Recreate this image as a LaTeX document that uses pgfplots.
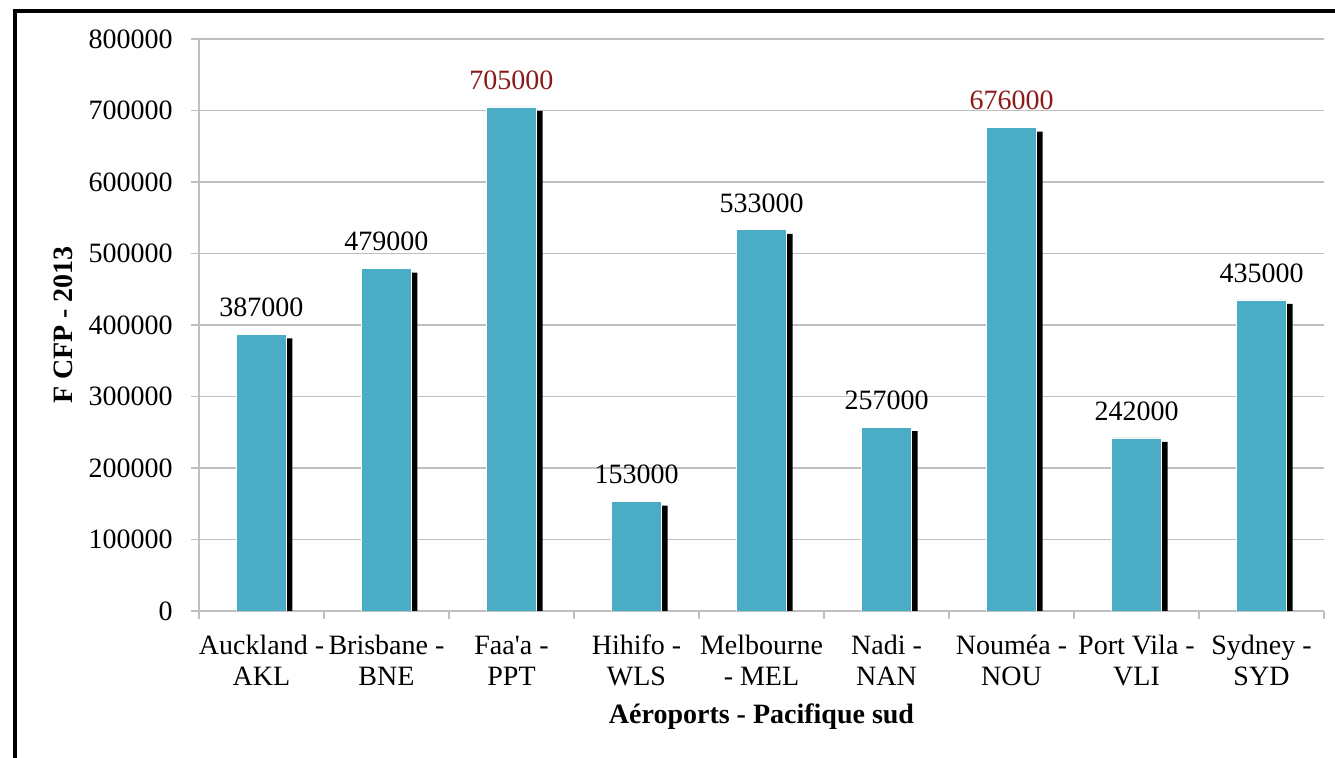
\documentclass[border=0pt]{standalone}
\usepackage{pgfplots}
\pgfplotsset{compat=1.18}
\usepackage{fontspec}
\setmainfont{Liberation Serif}
\definecolor{teal1}{HTML}{4BACC6}
\definecolor{darkred1}{HTML}{8B1A1A}
\definecolor{gridgray}{HTML}{BFBFBF}
\begin{document}
\begin{tikzpicture}
\useasboundingbox (0,0) rectangle (667.5pt,379pt);
\draw[line width=2pt] (7.25pt,0) -- (7.25pt,374.5pt);
\draw[line width=2pt] (6.25pt,373.5pt) -- (667.5pt,373.5pt);
\begin{axis}[
  at={(99.5pt,73.5pt)}, anchor=south west,
  scale only axis, width=562.5pt, height=286pt,
  xmin=-0.5, xmax=8.5, ymin=0, ymax=800000,
  ytick={0,100000,...,800000},
  scaled y ticks=false,
  axis x line*=bottom, axis y line*=left,
  axis line style={-, draw=gridgray, line width=0.75pt},
  ymajorgrids, grid style={draw=gridgray, line width=0.75pt},
  tick align=outside, major tick length=4pt,
  tick style={draw=gridgray, line width=0.75pt},
  xtick={-0.5,0.5,...,8.5}, xticklabels={},
  extra x ticks={0,1,2,3,4,5,6,7,8},
  extra x tick labels={\strut Auckland -\\AKL, \strut Brisbane -\\BNE, \strut Faa\textquotesingle a -\\PPT, \strut Hihifo -\\WLS, \strut Melbourne\\- MEL, \strut Nadi -\\NAN, \strut Nouméa -\\NOU, \strut Port Vila -\\VLI, \strut Sydney -\\SYD},
  extra x tick style={major tick length=0pt, grid=none},
  tick label style={font=\fontsize{14}{15.5}\selectfont},
  xticklabel style={align=center, anchor=north, inner sep=0pt, yshift=-10.8pt},
  yticklabel style={anchor=east, inner sep=0pt, xshift=-9pt},
  xlabel={\textbf{Aéroports - Pacifique sud}},
  xlabel style={at={(axis description cs:0.5,-0.1853)}, anchor=center, font=\fontsize{14}{16}\selectfont},
  ylabel={\textbf{F CFP - 2013}},
  ylabel style={at={(axis description cs:-0.1209,0.5)}, anchor=center, font=\fontsize{14}{16}\selectfont},
  /pgf/number format/.cd, fixed, 1000 sep={}, assume math mode=true,
]
% shadow
\addplot[ybar, bar width=25pt, bar shift=3pt, fill=black, draw=none] coordinates {
  (0,381400) (1,473400) (2,699400) (3,147400) (4,527400) (5,251400) (6,670400) (7,236400) (8,429400)};
% bars
\addplot[ybar, bar width=25pt, bar shift=0pt, fill=teal1, draw=white, line width=0.4pt] coordinates {
  (0,387000) (1,479000) (2,705000) (3,153000) (4,533000) (5,257000) (6,676000) (7,242000) (8,435000)};
% labels
\addplot[only marks, mark=none, nodes near coords, point meta=y,
  every node near coord/.append style={anchor=south, inner sep=0pt, yshift=8.5pt, text=black, font=\fontsize{14}{16}\selectfont}]
  coordinates {(0,387000) (1,479000) (3,153000) (4,533000) (5,257000) (7,242000) (8,435000)};
\addplot[only marks, mark=none, nodes near coords, point meta=y,
  every node near coord/.append style={anchor=south, inner sep=0pt, yshift=8.5pt, text=darkred1, font=\fontsize{14}{16}\selectfont}]
  coordinates {(2,705000) (6,676000)};
\end{axis}
\end{tikzpicture}
\end{document}
